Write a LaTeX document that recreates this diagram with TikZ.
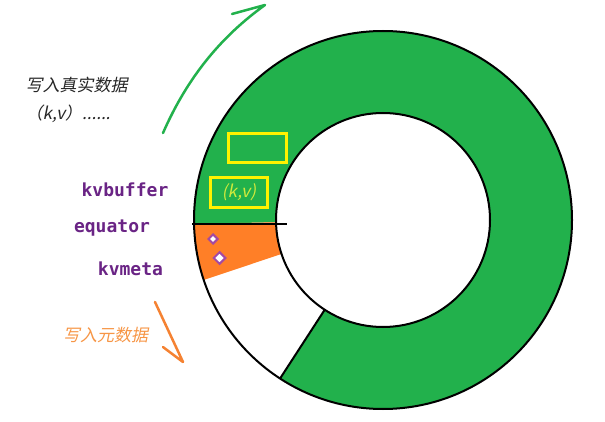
\documentclass[tikz,border=0pt]{standalone}
\usepackage{fontspec}
\usetikzlibrary{shapes.geometric}
\newfontfamily\cjkit[FakeSlant=0.2]{Noto Sans CJK SC}
\newfontfamily\labfont{DejaVu Sans Mono}
\definecolor{pgreen}{HTML}{22B14C}
\definecolor{porange}{HTML}{FF7F27}
\definecolor{pyellow}{HTML}{FFF200}
\definecolor{ppurple}{HTML}{A349A4}
\definecolor{lblpurple}{HTML}{6A2485}
\definecolor{kvtext}{HTML}{D2EA3C}
\definecolor{otext}{HTML}{F79646}
\definecolor{oarrow}{HTML}{F58232}
\tikzset{
  x=1pt, y=1pt,
  lbl/.style={text=lblpurple, font=\labfont\bfseries\fontsize{18}{20}\selectfont, inner sep=0pt},
  ybox/.style={draw=pyellow, line width=3pt, inner sep=0pt},
  dia/.style={diamond, draw=ppurple, fill=white, line width=2pt, inner sep=0pt},
  ring/.style={line width=2pt, draw=black},
}
\begin{document}
\begin{tikzpicture}
\useasboundingbox (0,0) rectangle (605,421);
\fill[white] (0,0) rectangle (605,421);
\begin{scope}[shift={(383,201)}]
  % green sector
  \fill[pgreen] (-123:189) arc[start angle=-123, end angle=181.2, radius=189]
     -- (181.2:107) arc[start angle=181.2, end angle=-123, radius=107] -- cycle;
  % orange sector
  \fill[porange] (181.2:189) arc[start angle=181.2, end angle=198.5, radius=189]
     -- (198.5:107) arc[start angle=198.5, end angle=181.2, radius=107] -- cycle;
  \draw[ring] (0,0) circle[radius=189];
  \draw[ring] (0,0) circle[radius=107];
  \draw[ring] (-123:107) -- (-123:189);
\end{scope}
% equator line
\coordinate (eqL) at (192,197);
\coordinate (eqR) at (287,197);
\draw[line width=2pt] (eqL) -- (eqR);
% yellow boxes
\node[ybox, minimum width=58, minimum height=29] (box1) at (257.5,273) {};
\node[ybox, minimum width=57, minimum height=30] (box2) at (239,228.5)
  {\cjkit\color{kvtext}\fontsize{17}{19}\selectfont (k,v)};
% diamonds
\node[dia, minimum width=10, minimum height=10] (d1) at (213,182) {};
\node[dia, minimum width=12.5, minimum height=12.5] (d2) at (219.5,163) {};
% labels
\node[lbl] (kvbuffer) at (125,231) {kvbuffer};
\node[lbl] (equator) at (112,193) {equator};
\node[lbl] (kvmeta) at (130.5,152) {kvmeta};
% texts
\node[inner sep=0pt, text=black!85, font=\cjkit\fontsize{17}{19}\selectfont] (t1) at (76.5,336) {写入真实数据};
\node[inner sep=0pt, text=black!85, font=\cjkit\fontsize{17}{19}\selectfont] (t2) at (68,307) {（k,v）......};
\node[inner sep=0pt, text=otext, font=\cjkit\fontsize{17}{19}\selectfont] (t3) at (105.5,86) {写入元数据};
% green arrow
\coordinate (gA) at (163,288);
\coordinate (gB) at (265,416);
\coordinate (gC) at (232,407);
\draw[pgreen, line width=2.5pt, line cap=round, line join=round]
  (gA) .. controls (188,345) and (222,385) .. (gB) -- (gC);
% orange arrow
\coordinate (oA) at (155,119);
\coordinate (oB) at (183,59);
\coordinate (oC) at (163,74);
\draw[oarrow, line width=2.5pt, line cap=round, line join=round] (oA) -- (oB) -- (oC);
\end{tikzpicture}
\end{document}
